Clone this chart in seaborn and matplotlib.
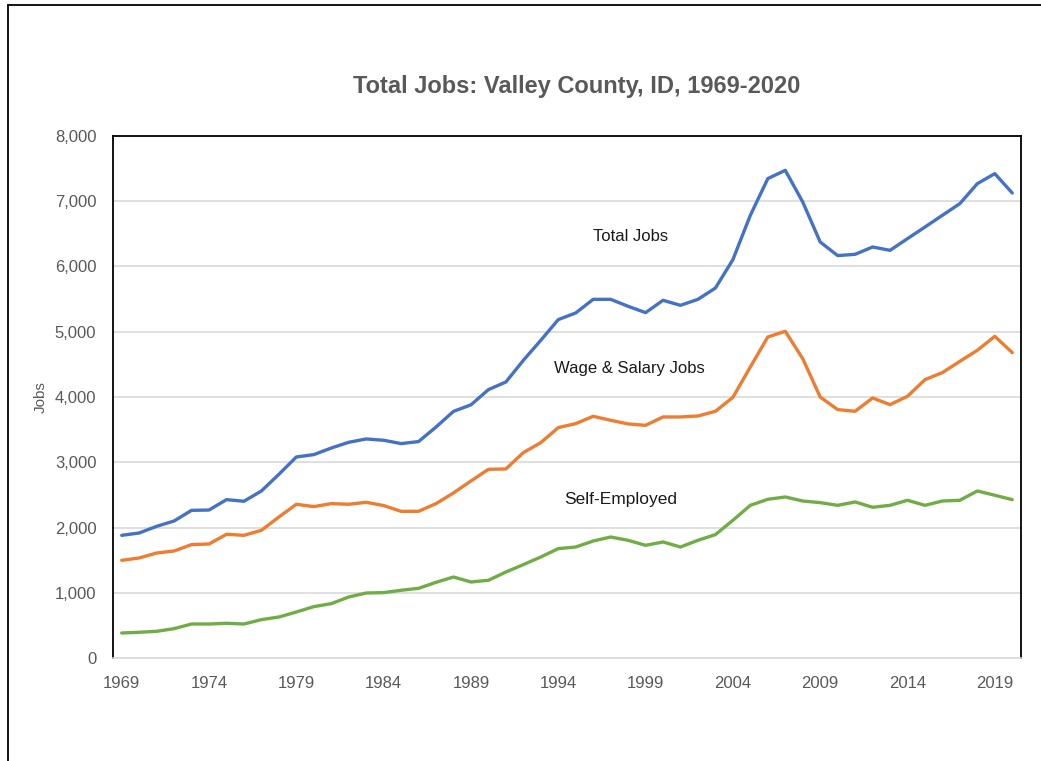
import pandas as pd
import matplotlib.pyplot as plt
import seaborn as sns
from matplotlib.lines import Line2D
from matplotlib.ticker import FuncFormatter

years = list(range(1969, 2021))

total_jobs = [1880, 1916, 2018, 2100, 2263, 2268, 2427, 2402, 2560, 2815,
              3081, 3117, 3218, 3306, 3357, 3337, 3286, 3317, 3540, 3780,
              3880, 4113, 4230, 4562, 4869, 5186, 5288, 5497, 5497, 5390,
              5293, 5482, 5405, 5497, 5670, 6105, 6785, 7347, 7474, 6989,
              6376, 6167, 6187, 6299, 6248, 6427, 6605, 6785, 6964, 7270,
              7423, 7126]

wage_salary = [1497, 1533, 1609, 1640, 1738, 1747, 1896, 1880, 1957, 2161,
               2356, 2320, 2366, 2356, 2386, 2336, 2248, 2248, 2366, 2530,
               2713, 2892, 2897, 3148, 3301, 3531, 3592, 3704, 3643, 3587,
               3566, 3694, 3694, 3709, 3781, 3995, 4460, 4920, 5007, 4588,
               4000, 3807, 3781, 3985, 3883, 4011, 4266, 4374, 4547, 4716,
               4930, 4680]

self_employed = [383, 394, 409, 450, 521, 521, 532, 521, 588, 628,
                 705, 787, 833, 935, 996, 1002, 1038, 1068, 1160, 1241,
                 1165, 1191, 1318, 1431, 1548, 1676, 1701, 1793, 1854, 1804,
                 1727, 1778, 1701, 1804, 1891, 2110, 2340, 2432, 2468, 2406,
                 2381, 2340, 2391, 2310, 2340, 2417, 2340, 2406, 2417, 2560,
                 2494, 2427]

series_names = ["Total Jobs", "Wage & Salary Jobs", "Self-Employed"]
colors = ["#4472C4", "#ED7D31", "#70AD47"]

df = pd.concat([
    pd.DataFrame({"year": years, "jobs": total_jobs, "series": series_names[0]}),
    pd.DataFrame({"year": years, "jobs": wage_salary, "series": series_names[1]}),
    pd.DataFrame({"year": years, "jobs": self_employed, "series": series_names[2]}),
])

sns.set_style("white")
plt.rcParams["font.family"] = ["Liberation Sans", "DejaVu Sans"]

fig = plt.figure(figsize=(10.41, 7.61), dpi=100)
ax = fig.add_axes([113 / 1041, 103 / 761, 908 / 1041, 522 / 761])

sns.lineplot(data=df, x="year", y="jobs", hue="series", palette=colors,
             linewidth=2.4, legend=False, ax=ax)

ax.set_xlim(1968.5, 2020.5)
ax.set_ylim(0, 8000)
ax.set_xticks(range(1969, 2020, 5))
ax.set_yticks(range(0, 8001, 1000))
ax.yaxis.set_major_formatter(FuncFormatter(lambda v, p: f"{int(v):,}"))
ax.tick_params(axis="both", length=0, labelsize=12, labelcolor="#595959")
ax.tick_params(axis="x", pad=13)
ax.tick_params(axis="y", pad=12)
ax.grid(axis="y", color="#d9d9d9", linewidth=1.2)
ax.set_axisbelow(True)

for side in ["left", "top", "right"]:
    ax.spines[side].set_color("black")
    ax.spines[side].set_linewidth(1.3)
ax.spines["bottom"].set_color("#d9d9d9")
ax.spines["bottom"].set_linewidth(1.2)

ax.set_xlabel("")
ax.set_ylabel("Jobs", fontsize=11, color="#595959", labelpad=5)

fig.text(577 / 1041, 1 - 86 / 761, "Total Jobs: Valley County, ID, 1969-2020",
         ha="center", va="center", fontsize=17, fontweight="bold", color="#595959")

ax.text(1998.15, 6460, "Total Jobs", ha="center", va="center", fontsize=12, color="#1a1a1a")
ax.text(1998.1, 4440, "Wage & Salary Jobs", ha="center", va="center", fontsize=12, color="#1a1a1a")
ax.text(1997.55, 2430, "Self-Employed", ha="center", va="center", fontsize=12.5, color="#1a1a1a")

# outer frame (top and left only)
fig.add_artist(Line2D([8 / 1041, 1], [1 - 5 / 761, 1 - 5 / 761], transform=fig.transFigure,
                      color="black", linewidth=1.3))
fig.add_artist(Line2D([8 / 1041, 8 / 1041], [0, 1 - 5 / 761], transform=fig.transFigure,
                      color="black", linewidth=1.3))

fig.savefig("out.png", dpi=100)
